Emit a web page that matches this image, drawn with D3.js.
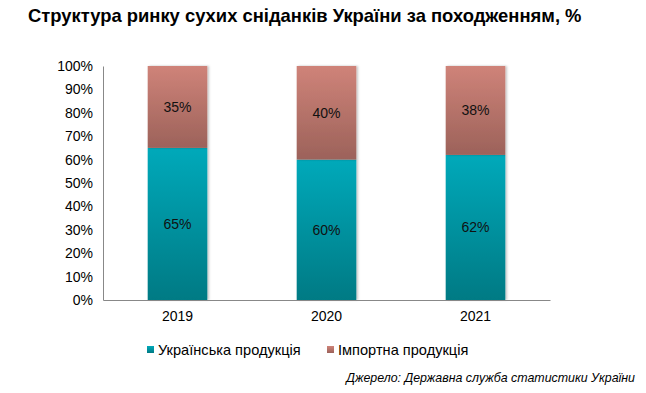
<!DOCTYPE html>
<html>
<head>
<meta charset="utf-8">
<script src="https://cdn.jsdelivr.net/npm/d3@7"></script>
<style>
  body { margin: 0; background: #fff; }
  svg { font-family: "Liberation Sans", Arial, sans-serif; }
</style>
</head>
<body>
<svg id="canvas" width="646" height="393"></svg>
<script>
// chart values
let years = ["2019", "2020", "2021"]
let domestic = [65, 60, 62]
let imported = [35, 40, 38]
let seriesNames = ["Українська продукція", "Імпортна  продукція"]
let yTicks = [0, 10, 20, 30, 40, 50, 60, 70, 80, 90, 100]

let canvas = d3.select('#canvas')

let margin = { left: 103, right: 96, top: 66, bottom: 93 }
let width = 646, height = 393

let x = d3.scaleBand().domain(years)
  .range([margin.left, width - margin.right])
  .paddingInner(0.6).paddingOuter(0.3)

let y = d3.scaleLinear().domain([0, 100])
  .range([height - margin.bottom, margin.top])

// gradients
let defs = canvas.append('defs')
let grads = [
  { id: 'gTeal', top: '#00a9ba', bottom: '#007a84' },
  { id: 'gRose', top: '#cf8379', bottom: '#9c625a' }
]
grads.forEach(g => {
  let lg = defs.append('linearGradient').attr('id', g.id)
    .attr('x1', 0).attr('y1', 0).attr('x2', 0).attr('y2', 1)
  lg.append('stop').attr('offset', '0%').attr('stop-color', g.top)
  lg.append('stop').attr('offset', '100%').attr('stop-color', g.bottom)
})
let shadow = defs.append('filter').attr('id', 'shadow')
  .attr('x', '-20%').attr('y', '-5%').attr('width', '140%').attr('height', '110%')
shadow.append('feDropShadow').attr('dx', 1.5).attr('dy', 0).attr('stdDeviation', 1)
  .attr('flood-color', '#000').attr('flood-opacity', 0.25)

// title
canvas.append('text')
  .attr('x', 28).attr('y', 22)
  .attr('font-size', '18.4px').attr('font-weight', 'bold').attr('fill', '#000')
  .text('Структура ринку сухих сніданків України за походженням, %')

// y axis
let yAxis = canvas.append('g')
  .attr('transform', `translate(${margin.left},0)`)
  .call(d3.axisLeft(y).tickValues(yTicks).tickSize(0).tickPadding(10).tickFormat(d => d + '%'))
yAxis.select('.domain').attr('stroke', '#888')
yAxis.selectAll('text').attr('font-size', '14px').attr('fill', '#000')
  .attr('font-family', '"Liberation Sans", Arial, sans-serif')

// stack
let rows = years.map((yr, i) => ({ year: yr, dom: domestic[i], imp: imported[i] }))
let stack = d3.stack().keys(['dom', 'imp'])(rows)
let fills = ['url(#gTeal)', 'url(#gRose)']

let layers = canvas.append('g').selectAll('g')
  .data(stack).enter().append('g')
  .attr('fill', (d, i) => fills[i])

layers.selectAll('rect')
  .data(d => d).enter().append('rect')
  .attr('x', d => x(d.data.year))
  .attr('width', x.bandwidth())
  .attr('y', d => y(d[1]))
  .attr('height', d => y(d[0]) - y(d[1]))
  .attr('filter', 'url(#shadow)')

layers.selectAll('text')
  .data(d => d).enter().append('text')
  .attr('x', d => x(d.data.year) + x.bandwidth() / 2)
  .attr('y', d => (y(d[0]) + y(d[1])) / 2)
  .attr('dy', '0.35em')
  .attr('text-anchor', 'middle')
  .attr('font-size', '14px').attr('fill', '#111')
  .text(d => (d[1] - d[0]) + '%')

// x axis
let xAxis = canvas.append('g')
  .attr('transform', `translate(0,${y(0)})`)
  .call(d3.axisBottom(x).tickSize(0).tickPadding(11))
xAxis.select('.domain').attr('stroke', '#888')
xAxis.selectAll('text').attr('font-size', '14px').attr('fill', '#000')
  .attr('font-family', '"Liberation Sans", Arial, sans-serif')

// legend
let legendX = [147, 327]
let legend = canvas.append('g').selectAll('g')
  .data(seriesNames).enter().append('g')
  .attr('transform', (d, i) => `translate(${legendX[i]},350)`)
legend.append('rect')
  .attr('x', 0).attr('y', -4).attr('width', 7).attr('height', 7)
  .attr('fill', (d, i) => fills[i])
legend.append('text')
  .attr('x', 11).attr('y', 0).attr('dy', '0.35em')
  .attr('font-size', '14.6px').attr('fill', '#000')
  .text(d => d)

// source
canvas.append('text')
  .attr('x', 635).attr('y', 382)
  .attr('text-anchor', 'end')
  .attr('font-size', '12.4px').attr('font-style', 'italic').attr('fill', '#000')
  .text('Джерело: Державна служба статистики України')
</script>
</body>
</html>
